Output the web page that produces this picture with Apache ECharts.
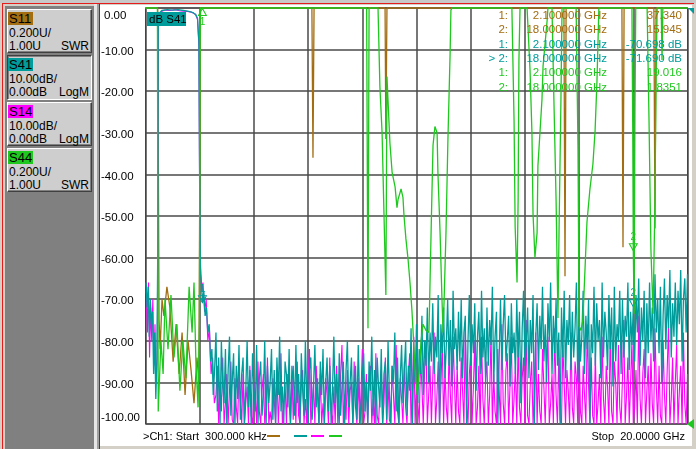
<!DOCTYPE html>
<html>
<head>
<meta charset="utf-8">
<title>VNA S-parameters</title>
<script src="https://cdn.jsdelivr.net/npm/echarts@6/dist/echarts.min.js"></script>
<style>
html,body{margin:0;padding:0;width:696px;height:449px;overflow:hidden;background:#d4d0c8;font-family:'Liberation Sans',Arial,sans-serif;}
.r{position:absolute;}
#chart{position:absolute;left:0;top:0;width:696px;height:449px;}
.box{position:absolute;left:7px;width:83px;height:42px;background:#cecece;border-style:solid;border-width:1px;border-color:#ffffff #404040 #404040 #ffffff;box-shadow:inset -1px -1px #808080;}
.box.down{border-color:#404040 #ffffff #ffffff #404040;box-shadow:inset 1px 1px #808080;}
.t{position:absolute;font-size:12px;line-height:14px;color:#000;white-space:nowrap;}
</style>
</head>
<body>
<div class="r" style="left:0;top:0;width:696px;height:3px;background:#c8c8c8"></div>
<div class="r" style="left:2px;top:3px;width:692px;height:1px;background:#e41c1c"></div>
<div class="r" style="left:2px;top:3px;width:1px;height:446px;background:#e41c1c"></div>
<div class="r" style="left:5px;top:6px;width:89px;height:443px;background:#808080"></div>
<div class="r" style="left:94px;top:4px;width:3px;height:445px;background:#e6e6e6"></div>
<div class="r" style="left:97px;top:4px;width:2px;height:445px;background:#a0a0a0"></div>
<div class="r" style="left:99px;top:4px;width:1px;height:445px;background:#404040"></div>
<div class="r" style="left:100px;top:5px;width:592px;height:441px;background:#ffffff"></div>
<div id="panel"></div>
<div id="chart"></div>
<script>
// ---------------- data ----------------
const traceNames   = ['S11', 'S41', 'S14', 'S44'];
const traceScales  = ['0.200U/', '10.00dB/', '10.00dB/', '0.200U/'];
const traceRefs    = ['1.00U', '0.00dB', '0.00dB', '1.00U'];
const traceFormats = ['SWR', 'LogM', 'LogM', 'SWR'];
const traceColors  = ['#a36d12', '#009c9c', '#ff00ff', '#1fc81f'];

const dbTickLabels = ['0.00', '-10.00', '-20.00', '-30.00', '-40.00', '-50.00',
                      '-60.00', '-70.00', '-80.00', '-90.00', '-100.00'];
const sweepStartText = '>Ch1: Start  300.000 kHz';
const sweepStopText  = 'Stop  20.0000 GHz';

// markers
const markerFreqs   = [2.1, 18.0];
const s11MarkerSwr  = [37.340, 15.945];
const s41MarkerDb   = [-70.698, -71.690];
const s44MarkerSwr  = [19.016, 1.8351];

// S41 (dB) low-frequency part
const s41HeadFreq = [0.02,0.06,0.10,0.14,0.18,0.22,0.26,0.30,0.34,0.38,0.42,0.45,0.47,0.52,0.60,0.80,1.00,1.20,1.40,1.60,1.75,1.85,1.92,1.97,2.00,2.03,2.06,2.10,2.15,2.20,2.25,2.30,2.35,2.40,2.45,2.50,2.55];
const s41HeadDb   = [-66,-72,-67,-79,-70,-76,-73,-88,-78,-94,-85,-60,-4,-1.2,-0.6,-0.4,-0.5,-0.4,-0.6,-0.8,-1.1,-1.6,-2.5,-8,-45,-64,-66,-70.698,-68,-74,-72,-78,-76,-85,-82,-93,-87];

// S14 (dB) low-frequency part
const s14HeadFreq = [0.03,0.07,0.11,0.15,0.19,0.23,0.27,0.31,0.35,0.39,0.43,0.46,0.48,0.55,0.70,0.90,1.10,1.30,1.50,1.70,1.85,1.92,1.97,2.00,2.03,2.08,2.12,2.18,2.24,2.30,2.36,2.42,2.48,2.54];
const s14HeadDb   = [-68,-78,-66,-84,-72,-80,-70,-86,-76,-90,-84,-58,-3.5,-1.0,-0.5,-0.6,-0.4,-0.7,-0.8,-1.0,-1.5,-2.8,-9,-48,-62,-68,-66,-73,-70,-80,-77,-88,-84,-95];

// stopband sweep points (GHz)
const noiseFreq = [
 2.6,2.65,2.7,2.75,2.8,2.85,2.9,2.95,3,3.05,3.1,3.15,3.2,3.25,3.3,3.35,3.4,3.45,3.5,3.55,
 3.6,3.65,3.7,3.75,3.8,3.85,3.9,3.95,4,4.05,4.1,4.15,4.2,4.25,4.3,4.35,4.4,4.45,4.5,4.55,
 4.6,4.65,4.7,4.75,4.8,4.85,4.9,4.95,5,5.05,5.1,5.15,5.2,5.25,5.3,5.35,5.4,5.45,5.5,5.55,
 5.6,5.65,5.7,5.75,5.8,5.85,5.9,5.95,6,6.05,6.1,6.15,6.2,6.25,6.3,6.35,6.4,6.45,6.5,6.55,
 6.6,6.65,6.7,6.75,6.8,6.85,6.9,6.95,7,7.05,7.1,7.15,7.2,7.25,7.3,7.35,7.4,7.45,7.5,7.55,
 7.6,7.65,7.7,7.75,7.8,7.85,7.9,7.95,8,8.05,8.1,8.15,8.2,8.25,8.3,8.35,8.4,8.45,8.5,8.55,
 8.6,8.65,8.7,8.75,8.8,8.85,8.9,8.95,9,9.05,9.1,9.15,9.2,9.25,9.3,9.35,9.4,9.45,9.5,9.55,
 9.6,9.65,9.7,9.75,9.8,9.85,9.9,9.95,10,10.05,10.1,10.15,10.2,10.25,10.3,10.35,10.4,10.45,10.5,10.55,
 10.6,10.65,10.7,10.75,10.8,10.85,10.9,10.95,11,11.05,11.1,11.15,11.2,11.25,11.3,11.35,11.4,11.45,11.5,11.55,
 11.6,11.65,11.7,11.75,11.8,11.85,11.9,11.95,12,12.05,12.1,12.15,12.2,12.25,12.3,12.35,12.4,12.45,12.5,12.55,
 12.6,12.65,12.7,12.75,12.8,12.85,12.9,12.95,13,13.05,13.1,13.15,13.2,13.25,13.3,13.35,13.4,13.45,13.5,13.55,
 13.6,13.65,13.7,13.75,13.8,13.85,13.9,13.95,14,14.05,14.1,14.15,14.2,14.25,14.3,14.35,14.4,14.45,14.5,14.55,
 14.6,14.65,14.7,14.75,14.8,14.85,14.9,14.95,15,15.05,15.1,15.15,15.2,15.25,15.3,15.35,15.4,15.45,15.5,15.55,
 15.6,15.65,15.7,15.75,15.8,15.85,15.9,15.95,16,16.05,16.1,16.15,16.2,16.25,16.3,16.35,16.4,16.45,16.5,16.55,
 16.6,16.65,16.7,16.75,16.8,16.85,16.9,16.95,17,17.05,17.1,17.15,17.2,17.25,17.3,17.35,17.4,17.45,17.5,17.55,
 17.6,17.65,17.7,17.75,17.8,17.85,17.9,17.95,18,18.05,18.1,18.15,18.2,18.25,18.3,18.35,18.4,18.45,18.5,18.55,
 18.6,18.65,18.7,18.75,18.8,18.85,18.9,18.95,19,19.05,19.1,19.15,19.2,19.25,19.3,19.35,19.4,19.45,19.5,19.55,
 19.6,19.65,19.7,19.75,19.8,19.85,19.9,19.95,20];

const s41NoiseDb = [
 -78,-97,-84,-100,-80,-91,-95,-82,-100,-87,-79,-98,-90,-83,-100,-86,-94,-81,-99,-88,
 -84,-100,-92,-80,-96,-87,-100,-83,-91,-97,-81,-100,-89,-85,-98,-93,-80,-100,-86,-95,
 -90,-82,-99,-87,-100,-84,-93,-79,-97,-91,-100,-85,-88,-96,-82,-100,-90,-86,-98,-81,
 -95,-88,-100,-83,-92,-98,-80,-94,-100,-87,-84,-99,-91,-81,-96,-89,-100,-85,-93,-82,
 -100,-90,-84,-97,-86,-100,-92,-79,-95,-88,-100,-83,-98,-91,-85,-100,-87,-80,-96,-90,
 -84,-100,-93,-86,-99,-81,-94,-100,-88,-83,-97,-90,-100,-85,-92,-79,-98,-87,-100,-84,
 -91,-96,-82,-100,-88,-85,-99,-80,-93,-100,-86,-90,-78,-97,-84,-100,-89,-81,-95,-87,
 -80,-98,-86,-92,-77,-100,-84,-90,-76,-95,-82,-88,-74,-93,-80,-86,-72,-90,-78,-85,
 -71,-88,-79,-84,-69,-100,-76,-83,-72,-89,-81,-70,-86,-75,-91,-68,-82,-77,-87,-73,
 -85,-70,-89,-78,-74,-100,-80,-69,-86,-76,-83,-71,-92,-79,-73,-88,-68,-84,-77,-90,
 -72,-86,-75,-81,-67,-90,-79,-73,-100,-84,-70,-87,-76,-69,-85,-80,-74,-91,-71,-83,
 -78,-88,-70,-84,-73,-95,-77,-68,-86,-81,-72,-89,-75,-83,-69,-100,-79,-71,-87,-74,
 -82,-67,-85,-76,-90,-71,-80,-66,-88,-74,-83,-70,-86,-78,-100,-72,-84,-68,-89,-75,
 -81,-69,-87,-73,-84,-77,-66,-90,-72,-85,-79,-68,-88,-74,-82,-70,-100,-76,-83,-67,
 -86,-71,-80,-75,-89,-66,-84,-73,-78,-87,-69,-82,-72,-91,-67,-85,-76,-80,-68,-88,
 -70,-84,-74,-79,-66,-87,-73,-81,-71.69,-85,-69,-78,-65,-86,-72,-80,-68,-89,-71,-83,
 -66,-80,-72,-85,-64,-78,-70,-83,-67,-90,-74,-65,-82,-69,-77,-63,-84,-71,-79,-66,
 -81,-68,-76,-63,-85,-70,-65,-78,-64];

const s14NoiseDb = [
 -93,-86,-100,-90,-97,-84,-100,-95,-88,-100,-92,-85,-99,-100,-89,-96,-100,-87,-94,-100,
 -88,-100,-95,-91,-100,-86,-98,-100,-90,-93,-100,-85,-97,-100,-92,-88,-100,-96,-84,-100,
 -97,-100,-89,-94,-100,-87,-100,-92,-83,-100,-96,-90,-100,-88,-95,-100,-86,-99,-91,-100,
 -85,-98,-100,-91,-87,-100,-94,-100,-89,-82,-100,-96,-90,-100,-86,-93,-100,-88,-100,-95,
 -100,-89,-93,-100,-84,-97,-100,-91,-100,-86,-95,-100,-88,-81,-100,-93,-99,-87,-100,-92,
 -90,-100,-85,-96,-100,-89,-100,-93,-82,-100,-97,-88,-100,-91,-86,-100,-94,-100,-83,-98,
 -100,-92,-87,-100,-95,-84,-100,-90,-99,-100,-86,-93,-100,-81,-97,-100,-89,-94,-100,-85,
 -96,-100,-88,-83,-100,-92,-79,-100,-90,-95,-100,-84,-91,-100,-87,-80,-100,-93,-86,-100,
 -89,-78,-100,-94,-85,-100,-91,-80,-100,-87,-96,-100,-82,-93,-100,-79,-90,-100,-86,-97,
 -100,-84,-92,-100,-77,-95,-100,-88,-83,-100,-91,-80,-100,-96,-86,-100,-79,-94,-100,-89,
 -85,-100,-93,-78,-100,-88,-97,-100,-82,-92,-100,-76,-95,-100,-87,-83,-100,-91,-79,-100,
 -94,-86,-100,-80,-96,-100,-89,-84,-100,-75,-98,-100,-90,-85,-100,-93,-78,-100,-88,-97,
 -100,-82,-91,-100,-86,-79,-100,-95,-88,-100,-77,-93,-100,-84,-99,-100,-81,-90,-100,-87,
 -92,-100,-78,-96,-100,-85,-89,-100,-80,-97,-100,-86,-93,-100,-76,-91,-100,-84,-98,-100,
 -83,-100,-95,-88,-100,-79,-94,-100,-86,-91,-100,-77,-97,-100,-85,-90,-100,-81,-96,-100,
 -89,-75,-100,-93,-84,-100,-90,-80,-100,-96,-87,-100,-74,-94,-100,-88,-82,-100,-92,-86,
 -100,-83,-95,-100,-77,-91,-100,-86,-98,-100,-80,-93,-100,-87,-76,-100,-94,-84,-100,-90,
 -81,-100,-92,-86,-100,-78,-95,-100,-88];

// S11 (SWR, values above 3 shown pinned at the top edge as on the screen)
const s11Freq = [0.0003,0.45,0.50,0.54,0.61,0.68,0.79,0.90,1.02,1.13,1.24,1.35,1.46,1.57,1.68,1.79,1.90,1.97,2.03,6.14,6.18,6.22,8.84,8.87,8.91,15.44,15.48,15.52,17.58,17.62,17.66,18.76,18.80,18.84,20.0];
const s11Swr  = [3,3,1.50,1.36,1.60,1.52,1.66,1.56,1.30,1.48,1.24,1.44,1.14,1.40,1.26,1.10,1.32,1.20,3,3,2.28,3,3,2.37,3,3,1.71,3,3,1.85,3,3,1.94,3,3];

// S44 (SWR)
const s44Freq = [0.0003,0.44,0.47,0.50,0.57,0.65,0.72,0.83,0.94,1.05,1.16,1.27,1.38,1.49,1.61,1.72,1.79,1.86,1.94,1.99,2.02,
 8.16,8.21,8.25,
 8.58,8.65,8.73,8.80,8.87,8.91,9.02,9.10,9.21,9.28,9.32,9.43,9.50,9.54,9.61,9.69,9.76,9.83,9.95,10.02,10.09,10.17,10.24,10.35,10.46,10.54,10.57,10.61,10.68,10.76,10.79,10.87,10.94,10.98,11.02,11.09,11.16,11.24,11.27,11.31,
 13.52,13.60,13.64,13.71,13.75,13.78,13.82,
 14.08,14.19,14.26,14.30,14.37,14.45,14.48,14.56,14.63,14.67,14.82,14.85,
 15.00,15.07,15.15,15.22,15.26,15.33,15.37,
 15.89,15.96,16.00,16.07,16.14,16.29,16.40,16.51,16.59,16.66,16.73,
 17.95,17.98,18.00,18.03,18.06,18.09,
 18.51,18.58,18.65,18.73,18.80,18.84,18.88,
 19.03,19.06,19.09,
 20.0];
const s44Swr = [3,3,1.06,1.06,1.40,1.24,1.60,1.36,1.62,1.32,1.48,1.16,1.40,1.22,1.66,1.44,1.68,1.30,1.08,1.50,3,
 3,1.46,3,
 3,2.62,2.40,2.01,1.62,2.67,2.35,2.21,2.14,2.04,2.08,2.13,2.09,2.00,1.89,1.79,1.68,1.55,1.26,1.14,1.24,1.40,1.48,1.45,1.44,1.93,2.11,2.34,2.43,2.40,2.21,1.92,1.60,1.44,1.60,1.93,2.37,2.78,2.99,3,
 3,2.46,1.95,1.68,2.08,2.75,3,
 3,2.70,2.40,2.01,1.80,1.92,2.24,2.41,2.56,2.72,2.94,3,
 3,2.56,2.08,1.51,1.93,2.56,3,
 3,2.32,1.47,1.45,1.50,1.97,2.13,2.25,2.41,2.65,3,
 3,2.40,1.8351,1.53,2.50,3,
 3,2.46,1.84,1.53,2.08,2.65,3,
 3,2.75,3,
 3];

// ---------------- left panel ----------------
const panel = document.getElementById('panel');
const boxTops = [9, 55, 102, 148];
function addDiv(cls, css, text) {
  const d = document.createElement('div');
  if (cls) d.className = cls;
  d.style.cssText = css;
  if (text !== undefined) d.textContent = text;
  panel.appendChild(d);
  return d;
}
traceNames.forEach((nm, i) => {
  const t = boxTops[i];
  addDiv('box' + (i === 1 ? ' down' : ''), 'top:' + t + 'px;' + (i === 1 ? 'height:43px;' : ''));
  addDiv('r', 'left:8px;top:' + (t + 3) + 'px;width:25px;height:13px;background:' + traceColors[i]);
  addDiv('t', 'left:9px;top:' + (t + 3) + 'px;font-size:13px;line-height:13px;', nm);
  addDiv('t', 'left:9px;top:' + (t + 17) + 'px;', traceScales[i]);
  addDiv('t', 'left:9px;top:' + (t + 30) + 'px;', traceRefs[i]);
  addDiv('t', 'left:8px;width:81px;text-align:right;top:' + (t + 30) + 'px;', traceFormats[i]);
});

// ---------------- chart ----------------
const FONT = '"Liberation Sans", Arial, sans-serif';
const F11 = '11.5px ' + FONT;
const pairs = (xs, ys) => xs.map((x, i) => [x, ys[i]]);
const s41Data = pairs(s41HeadFreq, s41HeadDb).concat(pairs(noiseFreq, s41NoiseDb));
const s14Data = pairs(s14HeadFreq, s14HeadDb).concat(pairs(noiseFreq, s14NoiseDb));
const SWR_TOP = 3;

function markerItems(vals, top) {
  return markerFreqs.map((f, i) => {
    const off = vals[i] > top;
    return {
      coord: [f, off ? top : vals[i]],
      value: i + 1,
      symbolRotate: off ? 0 : 180,
      symbolOffset: off ? [0, 4] : [0, -3],
      label: { position: off ? 'bottom' : 'top' }
    };
  });
}
function markPointCfg(color, items) {
  return {
    symbol: 'triangle', symbolSize: [8, 7],
    itemStyle: { color: 'rgba(0,0,0,0)', borderColor: color, borderWidth: 1 },
    label: { show: true, formatter: p => String(p.value), color: color, fontSize: 10, fontFamily: FONT, distance: 1 },
    data: items
  };
}

const graphics = [];
graphics.push({ type: 'rect', z: 100, shape: { x: 147, y: 12, width: 39, height: 14 }, style: { fill: traceColors[1] } });
graphics.push({ type: 'text', z: 101, x: 149, y: 19.5, style: { text: 'dB S41', fill: '#000', font: F11, align: 'left', verticalAlign: 'middle', textAlign: 'left', textVerticalAlign: 'middle' } });

const readRows = [];
markerFreqs.forEach((f, i) => readRows.push({ id: (i + 1) + ':', f: f, v: s11MarkerSwr[i].toPrecision(5), c: traceColors[0] }));
markerFreqs.forEach((f, i) => readRows.push({ id: (i === 1 ? '> ' : '') + (i + 1) + ':', f: f, v: s41MarkerDb[i].toFixed(3) + ' dB', c: traceColors[1] }));
markerFreqs.forEach((f, i) => readRows.push({ id: (i + 1) + ':', f: f, v: s44MarkerSwr[i].toPrecision(5), c: traceColors[3] }));
readRows.forEach((r, k) => {
  const y = 16 + k * 14.3;
  const st = (text, x) => ({ type: 'text', z: 100, x: x, y: y, style: { text: text, fill: r.c, font: F11, align: 'right', verticalAlign: 'middle', textAlign: 'right', textVerticalAlign: 'middle' } });
  graphics.push(st(r.id, 508));
  graphics.push(st(r.f.toFixed(6) + ' GHz', 607));
  graphics.push(st(r.v, 682));
});

graphics.push({ type: 'text', z: 100, x: 143, y: 437, style: { text: sweepStartText, fill: '#000', font: '11px ' + FONT, align: 'left', verticalAlign: 'middle', textAlign: 'left', textVerticalAlign: 'middle' } });
graphics.push({ type: 'text', z: 100, x: 685, y: 437, style: { text: sweepStopText, fill: '#000', font: '11px ' + FONT, align: 'right', verticalAlign: 'middle', textAlign: 'right', textVerticalAlign: 'middle' } });
[267, 294, 311, 329].forEach((x, i) => {
  graphics.push({ type: 'line', z: 100, shape: { x1: x, y1: 436, x2: x + 13, y2: 436 }, style: { stroke: traceColors[i], lineWidth: 2 } });
});
graphics.push({ type: 'polygon', z: 100, shape: { points: [[687, 424], [694, 419], [694, 429]] }, style: { fill: traceColors[3] } });
graphics.push({ type: 'polygon', z: 100, shape: { points: [[688, 8], [694, 8], [694, 14]] }, style: { fill: traceColors[1] } });

const lineBase = { type: 'line', symbol: 'none', showSymbol: false, clip: false, animation: false, sampling: null };

const option = {
  animation: false,
  backgroundColor: 'transparent',
  grid: { left: 145.5, right: 8.5, top: 8, bottom: 25, show: true, borderColor: '#333', borderWidth: 1,
          backgroundColor: 'transparent', containLabel: false, outerBoundsMode: 'none' },
  xAxis: {
    type: 'value', min: 0, max: 20, interval: 2,
    axisLabel: { show: false }, axisTick: { show: false }, axisLine: { show: false },
    splitLine: { show: true, lineStyle: { color: '#4a4a4a', width: 1.5 } }
  },
  yAxis: [
    {
      type: 'value', min: -100, max: 0, interval: 10, position: 'left',
      axisLine: { show: false }, axisTick: { show: false },
      axisLabel: {
        margin: 44.5, align: 'left', color: '#000', fontSize: 11.5, fontFamily: FONT,
        formatter: v => {
          const lab = dbTickLabels[Math.round(-v / 10)];
          if (v === 0) return '{top|' + lab + '}';
          if (v === -100) return '{bot|' + lab + '}';
          return '{mid|' + lab + '}';
        },
        rich: {
          top: { padding: [16, 0, 0, 3], fontSize: 11.5, fontFamily: FONT, color: '#000' },
          mid: { padding: [4, 0, 0, 0], fontSize: 11.5, fontFamily: FONT, color: '#000' },
          bot: { padding: [0, 0, 12, 0], fontSize: 11.5, fontFamily: FONT, color: '#000' }
        }
      },
      splitLine: { show: true, lineStyle: { color: '#4a4a4a', width: 1.5 } }
    },
    { type: 'value', min: 1, max: 3, interval: 0.2, show: false, splitLine: { show: false } }
  ],
  series: [
    Object.assign({}, lineBase, { name: 'S11', yAxisIndex: 1, z: 2, data: pairs(s11Freq, s11Swr),
      lineStyle: { color: traceColors[0], width: 1.3 } }),
    Object.assign({}, lineBase, { name: 'S14', yAxisIndex: 0, z: 3, data: s14Data,
      lineStyle: { color: traceColors[2], width: 1.1 } }),
    Object.assign({}, lineBase, { name: 'S41', yAxisIndex: 0, z: 4, data: s41Data,
      lineStyle: { color: traceColors[1], width: 1.3 },
      markPoint: markPointCfg(traceColors[1], markerItems(s41MarkerDb, 0)) }),
    Object.assign({}, lineBase, { name: 'S44', yAxisIndex: 1, z: 5, data: pairs(s44Freq, s44Swr),
      lineStyle: { color: traceColors[3], width: 1.3 },
      markPoint: markPointCfg(traceColors[3], markerItems(s44MarkerSwr, SWR_TOP)) })
  ],
  graphic: { elements: graphics }
};

const chart = echarts.init(document.getElementById('chart'), null, { renderer: 'canvas' });
chart.setOption(option);
</script>
</body>
</html>
